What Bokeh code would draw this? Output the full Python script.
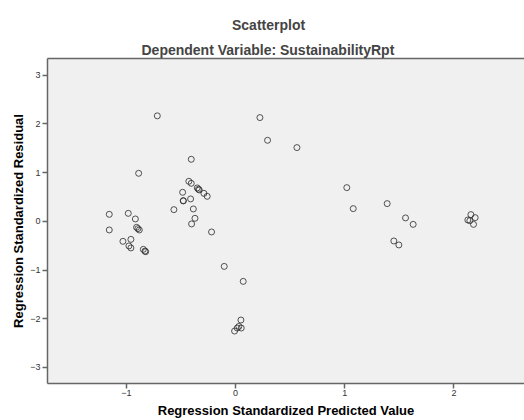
from bokeh.plotting import figure
from bokeh.models import FixedTicker, LinearAxis, Title, Range1d
from bokeh.embed import file_html
from bokeh.resources import INLINE

# Regression standardized predicted values (x) and residuals (y)
pred = [-0.717, 0.223, 0.293, 0.562, -0.406, -0.888,
        -0.428, -0.406, -0.351, -0.333, -0.340, -0.290, -0.260, -0.485, -0.479, -0.479,
        -0.412, -0.565, -0.387, -0.372, -0.403, -0.220,
        -1.157, -1.157, -0.983, -0.918, -0.907, -0.895, -0.882, -1.032, -0.959,
        -0.977, -0.959, -0.845, -0.830, -0.824,
        -0.104, 0.070, 0.049, 0.030, 0.052, 0.015, -0.009,
        1.019, 1.078, 1.389, 1.557, 1.627, 1.450, 1.496,
        2.156, 2.128, 2.195, 2.180, 2.146]
resid = [2.166, 2.130, 1.664, 1.514, 1.274, 0.986,
         0.822, 0.781, 0.686, 0.645, 0.660, 0.575, 0.514, 0.596, 0.419, 0.425,
         0.460, 0.240, 0.254, 0.062, -0.053, -0.218,
         0.144, -0.177, 0.164, 0.049, -0.123, -0.150, -0.177, -0.410, -0.370,
         -0.505, -0.546, -0.575, -0.610, -0.623,
         -0.925, -1.233, -2.026, -2.157, -2.190, -2.190, -2.252,
         0.692, 0.261, 0.364, 0.070, -0.062, -0.403, -0.485,
         0.138, 0.028, 0.076, -0.062, 0.014]

x_ticks = [-1, 0, 1, 2]
y_ticks = [-3, -2, -1, 0, 1, 2, 3]

title_text = "Scatterplot"
subtitle_text = "Dependent Variable: SustainabilityRpt"
x_label = "Regression Standardized Predicted Value"
y_label = "Regression Standardized Residual"

FONT = "Liberation Sans"
AX = "#666666"

p = figure(width=524, height=420, output_backend="svg", toolbar_location=None,
           title=None,
           x_range=Range1d(-1.723, 2.647), y_range=Range1d(-3.329, 3.343),
           min_border_left=47, min_border_right=0, min_border_top=58, min_border_bottom=37)

p.background_fill_color = "#F0F0F0"
p.border_fill_color = "white"
p.outline_line_color = None
p.grid.visible = False

for ax, ticks, lab in ((p.xaxis[0], x_ticks, x_label), (p.yaxis[0], y_ticks, y_label)):
    ax.ticker = FixedTicker(ticks=ticks)
    ax.axis_label = lab
    ax.axis_label_text_font = FONT
    ax.axis_label_text_font_style = "bold"
    ax.axis_label_text_font_size = "13px"
    ax.axis_label_text_color = "black"
    ax.major_label_text_font = FONT
    ax.major_label_text_font_size = "9px"
    ax.major_label_text_color = "#333333"
    ax.axis_line_color = AX
    ax.axis_line_width = 1.5
    ax.major_tick_line_color = AX
    ax.major_tick_line_width = 1.5
    ax.major_tick_in = 0
    ax.major_tick_out = 5
    ax.minor_tick_line_color = None

p.xaxis.major_label_standoff = 1
p.xaxis.axis_label_standoff = 4
p.yaxis.major_label_standoff = 2
p.yaxis.axis_label_standoff = 1

top_axis = LinearAxis(ticker=FixedTicker(ticks=[]), axis_line_color=AX, axis_line_width=1.5,
                      major_label_text_font_size="0px", major_tick_out=0, major_tick_in=0,
                      minor_tick_line_color=None, major_label_standoff=0)
p.add_layout(top_axis, "above")

p.add_layout(Title(text=subtitle_text, align="left", offset=94, text_font=FONT,
                   text_font_size="14px", text_font_style="bold", standoff=2), "above")
p.add_layout(Title(text=title_text, align="left", offset=184.5, text_font=FONT,
                   text_font_size="14px", text_font_style="bold", standoff=12), "above")

p.scatter(pred, resid, marker="circle", size=6, fill_color=None,
          line_color="#2a2a2a", line_alpha=0.8, line_width=1)

open("out.html", "w").write(file_html(p, INLINE))
